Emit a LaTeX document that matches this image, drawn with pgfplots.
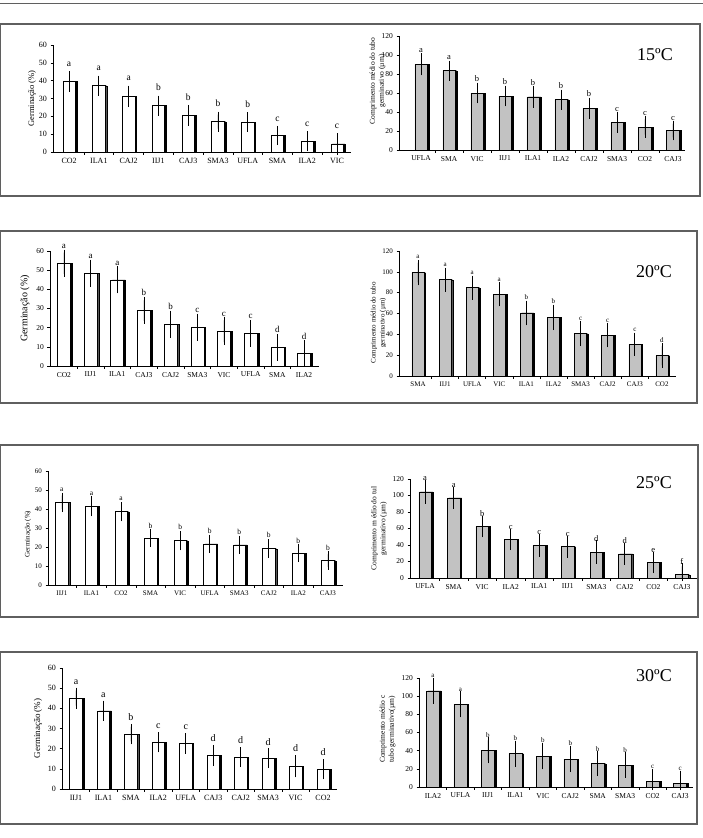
\documentclass[border=0pt]{standalone}
\usepackage{pgfplots}
\pgfplotsset{compat=1.18}
\usepackage{pgfplotstable}
\usepackage{fontspec}
\setmainfont{Liberation Serif}
\definecolor{bargray}{RGB}{194,194,194}
\definecolor{boxgray}{RGB}{95,95,95}

\pgfplotstableread{
x label y e m l
0 CO2 39.6 4.0 4.0 a
1 ILA1 37.2 3.9 3.9 a
2 CAJ2 31.2 4.4 4.4 a
3 IIJ1 26.0 3.9 3.9 b
4 CAJ3 20.6 4.1 4.1 b
5 SMA3 17.0 3.9 3.9 b
6 UFLA 16.8 3.8 3.8 b
7 SMA 9.3 3.7 3.7 c
8 ILA2 6.0 3.9 3.9 c
9 VIC 4.5 4.3 4.3 c
}\tA
\pgfplotstableread{
x label y e m l
0 UFLA 90.2 8.5 8.5 a
1 SMA 83.5 7.5 7.5 a
2 VIC 60.0 7.7 7.7 b
3 IIJ1 56.8 7.8 7.8 b
4 ILA1 55.8 8.1 8.1 b
5 ILA2 53.0 7.4 7.4 b
6 CAJ2 43.9 8.0 8.0 b
7 SMA3 29.0 7.5 7.5 c
8 CO2 24.2 8.0 8.0 c
9 CAJ3 20.4 7.0 7.0 c
}\tB
\pgfplotstableread{
x label y e m l
0 CO2 53.6 5.5 5.5 a
1 IIJ1 48.3 5.6 5.6 a
2 ILA1 44.9 5.5 5.5 a
3 CAJ3 28.9 5.4 5.4 b
4 CAJ2 21.7 5.6 5.6 b
5 SMA3 20.2 5.5 5.5 c
6 VIC 18.1 5.7 5.7 c
7 UFLA 16.9 5.4 5.4 c
8 SMA 9.6 5.4 5.4 d
9 ILA2 6.6 5.2 5.2 d
}\tC
\pgfplotstableread{
x label y e m l
0 SMA 99.2 9.3 9.3 a
1 IIJ1 92.5 8.5 8.5 a
2 UFLA 84.8 8.6 8.6 a
3 VIC 78.4 8.6 8.6 a
4 ILA1 60.5 8.9 8.9 b
5 ILA2 56.3 9.3 9.3 b
6 SMA3 40.6 9.0 9.0 c
7 CAJ2 39.0 8.7 8.7 c
8 CAJ3 30.4 8.3 8.3 c
9 CO2 19.5 9.0 9.0 d
}\tD
\pgfplotstableread{
x label y e m l
0 IIJ1 43.5 3.5 3.5 a
1 ILA1 41.4 3.7 3.7 a
2 CO2 38.6 3.5 3.5 a
3 SMA 24.6 3.1 3.1 b
4 VIC 23.3 3.5 3.5 b
5 UFLA 21.6 3.3 3.3 b
6 SMA3 21.1 3.3 3.3 b
7 CAJ2 19.1 3.4 3.4 b
8 ILA2 16.7 3.1 3.1 b
9 CAJ3 12.8 3.3 3.3 b
}\tE
\pgfplotstableread{
x label y e m l
0 UFLA 104.3 10.9 10.9 a
1 SMA 97.0 10.0 10.0 a
2 VIC 62.4 9.6 9.6 b
3 ILA2 46.7 9.3 9.3 c
4 ILA1 39.5 10.0 10.0 c
5 IIJ1 37.9 9.6 9.6 c
6 SMA3 31.4 10.5 10.5 d
7 CAJ2 29.4 9.6 9.6 d
8 CO2 18.9 9.3 9.3 e
9 CAJ3 4.0 10.1 4.0 f
}\tF
\pgfplotstableread{
x label y e m l
0 IIJ1 45.1 3.7 3.7 a
1 ILA1 38.8 3.5 3.5 a
2 SMA 27.2 3.6 3.6 b
3 ILA2 23.2 3.5 3.5 c
4 UFLA 22.6 3.6 3.6 c
5 CAJ3 16.6 3.8 3.8 d
6 CAJ2 15.8 3.4 3.4 d
7 SMA3 15.3 3.4 3.4 d
8 VIC 11.3 4.0 4.0 d
9 CO2 9.8 3.5 3.5 d
}\tG
\pgfplotstableread{
x label y e m l
0 ILA2 105.7 11.0 11.0 a
1 UFLA 91.0 11.0 11.0 a
2 IIJ1 40.4 11.0 11.0 b
3 ILA1 36.7 11.0 11.0 b
4 VIC 34.1 11.4 11.4 b
5 CAJ2 30.8 11.0 11.0 b
6 SMA 25.7 10.3 10.3 b
7 SMA3 24.2 10.7 10.7 b
8 CO2 6.2 10.3 6.2 c
9 CAJ3 4.4 10.3 4.4 c
}\tH

\pgfplotsset{
  panel/.style={
    scale only axis, anchor=south west,
    axis x line=bottom, axis y line=left,
    axis line style={-, black, line width=0.6pt},
    ymin=0, xtick={0,...,9},
    minor xtick={0.5,1.5,...,8.5},
    tick align=outside,
    major tick length=2.5pt, minor tick length=2.5pt,
    tick style={black, line width=0.5pt},
    major x tick style={draw=none},
    clip=false,
    /pgf/number format/assume math mode=true,
    ylabel style={anchor=center, align=center},
  },
}

\newcommand{\bars}[5]{%
  \addplot[ybar, bar width=#3, bar shift=1.6pt, fill=black, draw=black, line width=0.3pt] table[x=x,y=y]{#1};
  \addplot[ybar, bar width=#3, bar shift=0pt, fill=#2, draw=black, line width=0.5pt,
    error bars/.cd, y dir=both, y explicit, error mark=-, error bar style={black, line width=0.7pt},
    error mark options={black, line width=0.7pt, mark size=3pt}]
    table[x=x, y=y, y error plus=e, y error minus=m]{#1};
  \addplot[only marks, mark=*, mark size=0pt, mark options={draw=none, fill=none},
    nodes near coords, point meta=explicit symbolic,
    nodes near coords style={anchor=south, inner sep=0pt, yshift=#5, font=#4, black}]
    table[x=x, y expr=\thisrow{y}+\thisrow{e}, meta=l]{#1};
}

\begin{document}
\begin{tikzpicture}
\useasboundingbox (0pt,0pt) rectangle (703pt,-838pt);
\draw[boxgray, line width=1pt] (0pt,-3.5pt) -- (703pt,-3.5pt);
\draw[boxgray, line width=1.2pt] (0.6pt,-24pt) rectangle (700pt,-196pt);
\draw[boxgray, line width=1.2pt] (0.6pt,-231pt) rectangle (697pt,-403pt);
\draw[boxgray, line width=1.2pt] (0.6pt,-445pt) rectangle (698pt,-617pt);
\draw[boxgray, line width=1.2pt] (0.6pt,-652pt) rectangle (697pt,-824pt);

% ---------- 15 C
\begin{axis}[panel, at={(53pt,-152pt)}, width=298pt, height=107pt,
  xmin=-0.54, xmax=9.47, ymax=60, ytick={0,10,...,60},
  xticklabels from table={\tA}{label},
  ticklabel style={font=\fontsize{8}{8}\selectfont},
  ylabel={Germinação (\%)},
  ylabel style={at={(axis description cs:-0.0705,0.5)}, font=\fontsize{8.5}{9}\selectfont}]
\bars{\tA}{white}{12.5pt}{\fontsize{9.5}{10}\selectfont}{7.5pt}
\end{axis}
\begin{axis}[panel, at={(399pt,-150pt)}, width=286pt, height=114pt,
  xmin=-0.79, xmax=9.43, ymax=120, ytick={0,20,...,120},
  xticklabels from table={\tB}{label},
  ticklabel style={font=\fontsize{7.5}{8}\selectfont},
  ylabel={Comprimento médio do tubo\\germinativo (µm)},
  ylabel style={at={(axis description cs:-0.075,0.605)}, font=\fontsize{7.5}{9}\selectfont}]
\bars{\tB}{bargray}{12.5pt}{\fontsize{8.5}{9}\selectfont}{3.5pt}
\end{axis}
\node[font=\fontsize{18}{18}\selectfont] at (655pt,-55pt) {15ºC};

% ---------- 20 C
\begin{axis}[panel, at={(50pt,-366pt)}, width=269pt, height=115pt,
  xmin=-0.52, xmax=9.56, ymax=60, ytick={0,10,...,60},
  xticklabels from table={\tC}{label},
  ticklabel style={font=\fontsize{7.5}{8}\selectfont},
  ylabel={Germinação (\%)},
  ylabel style={at={(axis description cs:-0.093,0.5)}, font=\fontsize{10}{11}\selectfont}]
\bars{\tC}{white}{13pt}{\fontsize{9}{10}\selectfont}{4pt}
\end{axis}
\begin{axis}[panel, at={(399pt,-376pt)}, width=277pt, height=125pt,
  xmin=-0.70, xmax=9.52, ymax=120, ytick={0,20,...,120},
  xticklabels from table={\tD}{label},
  ticklabel style={font=\fontsize{7}{8}\selectfont},
  ylabel={Comprimento médio do tubo\\germinativo (µm)},
  ylabel style={at={(axis description cs:-0.074,0.424)}, font=\fontsize{7}{9}\selectfont}]
\bars{\tD}{bargray}{12pt}{\fontsize{7}{8}\selectfont}{4pt}
\end{axis}
\node[font=\fontsize{18}{18}\selectfont] at (654pt,-272pt) {20ºC};

% ---------- 25 C
\begin{axis}[panel, at={(48pt,-585pt)}, width=295pt, height=114pt,
  xmin=-0.47, xmax=9.51, ymax=60, ytick={0,10,...,60},
  xticklabels from table={\tE}{label},
  ticklabel style={font=\fontsize{7}{8}\selectfont},
  ylabel={Germinação (\%)},
  ylabel style={at={(axis description cs:-0.068,0.447)}, font=\fontsize{7}{8}\selectfont}]
\bars{\tE}{white}{12.5pt}{\fontsize{7.5}{8}\selectfont}{4pt}
\end{axis}
\begin{axis}[panel, at={(410pt,-578pt)}, width=287pt, height=99pt,
  xmin=-0.53, xmax=9.53, ymax=120, ytick={0,20,...,120},
  xticklabels from table={\tF}{label},
  ticklabel style={font=\fontsize{7.5}{8}\selectfont},
  ylabel={Comprimento m édio do tul\\germinativo (µm)},
  ylabel style={at={(axis description cs:-0.108,0.5)}, font=\fontsize{7.5}{9}\selectfont}]
\bars{\tF}{bargray}{12.5pt}{\fontsize{8.5}{9}\selectfont}{2pt}
\end{axis}
\node[font=\fontsize{18}{18}\selectfont] at (654pt,-483pt) {25ºC};

% ---------- 30 C
\begin{axis}[panel, at={(62pt,-789pt)}, width=275pt, height=121pt,
  xmin=-0.51, xmax=9.51, ymax=60, ytick={0,10,...,60},
  xticklabels from table={\tG}{label},
  ticklabel style={font=\fontsize{8}{8}\selectfont},
  ylabel={Germinação (\%)},
  ylabel style={at={(axis description cs:-0.087,0.5)}, font=\fontsize{9}{10}\selectfont}]
\bars{\tG}{white}{12.5pt}{\fontsize{10}{10}\selectfont}{6pt}
\end{axis}
\begin{axis}[panel, at={(419pt,-787pt)}, width=274pt, height=109pt,
  xmin=-0.51, xmax=9.47, ymax=120, ytick={0,20,...,120},
  xticklabels from table={\tH}{label},
  ticklabel style={font=\fontsize{7.5}{8}\selectfont},
  ylabel={Comprimento médio c\\tubo germinativo(µm)},
  ylabel style={at={(axis description cs:-0.115,0.53)}, font=\fontsize{7.5}{9}\selectfont}]
\bars{\tH}{bargray}{13pt}{\fontsize{7}{8}\selectfont}{3pt}
\end{axis}
\node[font=\fontsize{18}{18}\selectfont] at (654pt,-676pt) {30ºC};
\end{tikzpicture}
\end{document}
